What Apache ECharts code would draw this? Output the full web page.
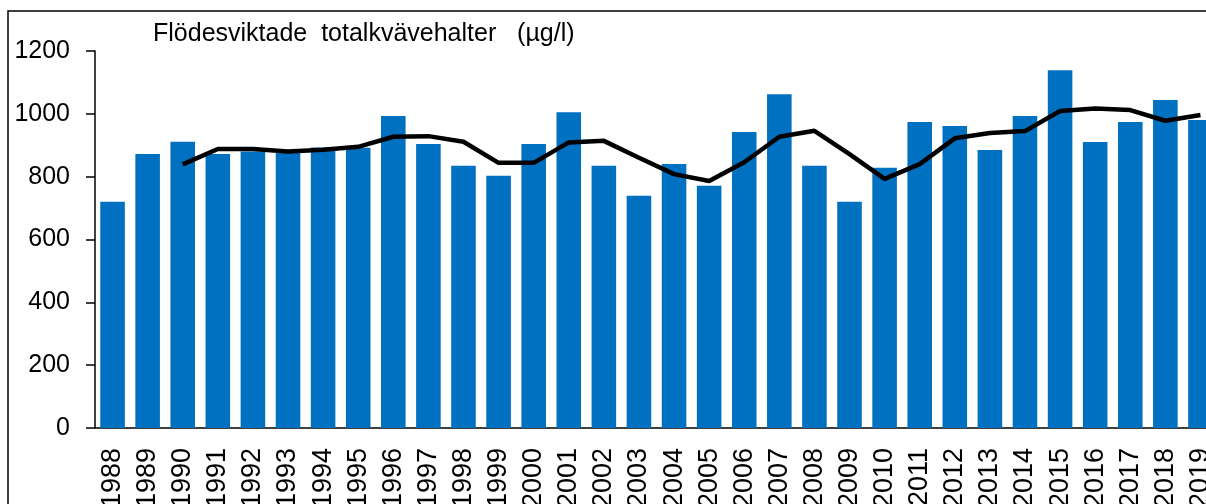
<!DOCTYPE html>
<html>
<head>
<meta charset="utf-8">
<script src="https://cdn.jsdelivr.net/npm/echarts@6/dist/echarts.min.js"></script>
<style>
  html, body { margin:0; padding:0; background:#fff; }
  #chart { width:1206px; height:504px; }
</style>
</head>
<body>
<div id="chart"></div>
<script>
  // ---- data ---------------------------------------------------------------
  const years = ['1988','1989','1990','1991','1992','1993','1994','1995','1996','1997',
                 '1998','1999','2000','2001','2002','2003','2004','2005','2006','2007',
                 '2008','2009','2010','2011','2012','2013','2014','2015','2016','2017',
                 '2018','2019'];
  const yearly = [720, 872, 911, 872, 880, 879, 893, 892, 993, 904,
                  835, 803, 904, 1005, 835, 739, 840, 771, 942, 1062,
                  835, 720, 828, 974, 961, 885, 993, 1139, 910, 974,
                  1044, 980];
  // 3-yr running line, starts at 1990
  const running = [null, null, 839, 888, 888, 880, 886, 895, 927, 929,
                   911, 844, 844, 909, 914, 860, 808, 786, 846, 927,
                   946, 872, 793, 840, 922, 939, 945, 1009, 1017, 1012,
                   978, 996];
  const yTicks = { min: 0, max: 1200, step: 200 };
  const titleText = 'Flödesviktade  totalkvävehalter   (µg/l)';

  const FONT = '"Liberation Sans", Arial, sans-serif';
  const chart = echarts.init(document.getElementById('chart'));

  chart.setOption({
    backgroundColor: '#fff',
    animation: false,
    // grid runs past the right edge, like the cropped original
    grid: { left: 95, top: 51, width: 1123, height: 377, outerBoundsMode: 'none', containLabel: false },
    graphic: [
      { type:'rect', silent:true, z:-1,
        shape:{ x:8, y:11, width:1300, height:700 },
        style:{ fill:'none', stroke:'#000', lineWidth:1.5 } },
      { type:'text', left:153, top:22,
        style:{ text:titleText, fill:'#000', font:'25px ' + FONT } }
    ],
    xAxis: {
      type:'category', data:years,
      axisLine:{ lineStyle:{ color:'#000', width:1.5 } },
      axisTick:{ show:false },
      axisLabel:{ rotate:90, color:'#000', fontSize:27, fontFamily:FONT, margin:20, interval:0 }
    },
    yAxis: {
      type:'value', min:yTicks.min, max:yTicks.max, interval:yTicks.step,
      splitLine:{ show:false },
      axisLine:{ show:true, lineStyle:{ color:'#000', width:1.5 } },
      axisTick:{ show:true, length:9, lineStyle:{ color:'#000', width:1.5 } },
      axisLabel:{ color:'#000', fontSize:25, fontFamily:FONT, margin:25, formatter: v => String(v) }
    },
    series: [
      { type:'bar', data:yearly, barCategoryGap:'30%',
        itemStyle:{ color:'#0070C0' } },
      { type:'line', data:running, showSymbol:false, connectNulls:false,
        lineStyle:{ color:'#000', width:4.5 }, itemStyle:{ color:'#000' } }
    ]
  });
</script>
</body>
</html>
